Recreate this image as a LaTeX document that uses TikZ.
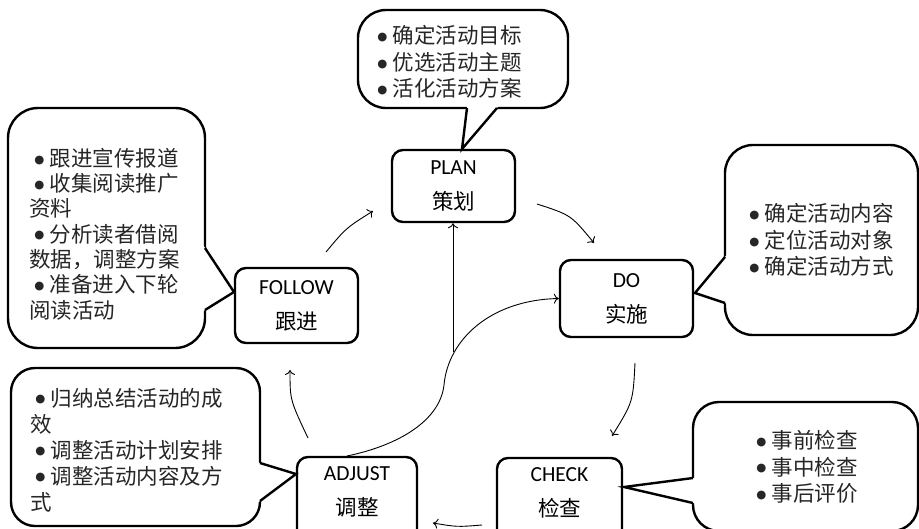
\documentclass[tikz,border=0pt]{standalone}
\usepackage{fontspec}
\setmainfont{Carlito}
\newfontfamily\cjk{Noto Sans CJK SC}
\newfontfamily\dejavu{DejaVu Sans}
\usetikzlibrary{arrows.meta}
\newcommand\bu{\makebox[0.95em][c]{\raisebox{3.2pt}{\dejavu\fontsize{11.5}{11.5}\selectfont ●}}}
\begin{document}
\begin{tikzpicture}[x=1pt,y=-1pt,
  box/.style={draw, line width=2.4pt, rounded corners=11pt, align=center, inner sep=0pt,
    font=\fontsize{21.5}{35}\selectfont},
  cbox/.style={draw, line width=2.4pt, fill=white, rounded corners=#1},
  cbox/.default=28pt,
  tailfill/.style={fill=white},
  tail/.style={line width=2.4pt, line join=miter},
  ctext/.style={align=left, inner sep=0pt, anchor=west, text=black!85,
    font=\cjk\fontsize{21.5}{26.5}\selectfont},
  conn/.style={line width=0.9pt, -{To[length=5pt,width=10pt]}}
]
\fill[white] (0,0) rectangle (919,528);
\useasboundingbox (0,0) rectangle (919,528);

% ---- callouts ----
% PLAN
\draw[cbox] (358,10) rectangle (568,108);
\fill[tailfill] (467.7,102) -- (462,149) -- (502,102) -- cycle;
\draw[tail] (467,108) -- (462,149) -- (497,108);
\node[ctext] (plantext) at (372,62) {\bu 确定活动目标\\\bu 优选活动主题\\\bu 活化活动方案};

% FOLLOW
\draw[cbox=30pt] (8,108) rectangle (205,348);
\fill[tailfill] (199,238.9) -- (234,292) -- (199,313.7) -- cycle;
\draw[tail] (205,248) -- (234,292) -- (205,310);
\node[ctext, font=\cjk\fontsize{21.5}{25.3}\selectfont] (followtext) at (29,234)
  {\bu 跟进宣传报道\\\bu 收集阅读推广\\资料\\\bu 分析读者借阅\\数据，调整方案\\\bu 准备进入下轮\\阅读活动};

% ADJUST
\draw[cbox=24pt] (11,368) rectangle (260,526);
\fill[tailfill] (254,461.2) -- (296,474) -- (254,505.5) -- cycle;
\draw[tail] (260,463) -- (296,474) -- (260,501);
\node[ctext, font=\cjk\fontsize{21.5}{26}\selectfont] (adjusttext) at (30,450)
  {\bu 归纳总结活动的成\\效\\\bu 调整活动计划安排\\\bu 调整活动内容及方\\式};

% DO
\draw[cbox] (725,145) rectangle (918,335);
\fill[tailfill] (731,249.8) -- (695,293) -- (731,305) -- cycle;
\draw[tail] (725,257) -- (695,293) -- (725,303);
\node[ctext] (dotext) at (744,240) {\bu 确定活动内容\\\bu 定位活动对象\\\bu 确定活动方式};

% CHECK
\draw[cbox=26pt] (693,402) rectangle (918,531);
\fill[tailfill] (699,477.2) -- (624,487) -- (699,504.4) -- cycle;
\draw[tail] (693,478) -- (624,487) -- (693,503);
\node[ctext] (checktext) at (751,467) {\bu 事前检查\\\bu 事中检查\\\bu 事后评价};

% ---- stage boxes ----
\node[box, minimum width=123pt, minimum height=72pt] (plan) at (453.5,186) {PLAN\\{\cjk 策划}};
\node[box, minimum width=133pt, minimum height=77pt] (do) at (626.5,298.5) {DO\\{\cjk 实施}};
\node[box, minimum width=123pt, minimum height=75pt] (follow) at (296.5,305.5) {FOLLOW\\{\cjk 跟进}};
\node[box, minimum width=120pt, minimum height=88pt] (adjust) at (357,501)
  {ADJUST\\{\cjk 调整}\rule[-20.5pt]{0pt}{0pt}};
\node[box, minimum width=125pt, minimum height=88pt] (check) at (559.5,502)
  {CHECK\\{\cjk 检查}\rule[-20.5pt]{0pt}{0pt}};

% ---- connectors ----
\coordinate (f2pA) at (326,252); \coordinate (f2pB) at (373,211);
\draw[conn] (f2pA) .. controls (346,228) .. (f2pB);
\coordinate (p2dA) at (537,204); \coordinate (p2dB) at (594,243);
\draw[conn] (p2dA) .. controls (571,215) .. (p2dB);
\coordinate (d2cA) at (635,363); \coordinate (d2cB) at (612,436);
\draw[conn] (d2cA) .. controls (633,402) .. (d2cB);
\coordinate (c2aA) at (482,525); \coordinate (c2aB) at (433,523);
\draw[conn] (c2aA) .. controls (457,527) .. (c2aB);
\coordinate (a2fA) at (308,438); \coordinate (a2fB) at (290,370);
\draw[conn] (a2fA) .. controls (290,400) .. (a2fB);
\coordinate (a2dA) at (347,456); \coordinate (a2dM) at (444,385);
\draw[conn] (a2dA) .. controls (400,445) and (440,420) .. (a2dM)
  .. controls (448,340) and (490,300) .. (do.west);
\coordinate (vs) at (453,352);
\draw[conn] (vs) -- (vs |- plan.south);
\end{tikzpicture}
\end{document}
